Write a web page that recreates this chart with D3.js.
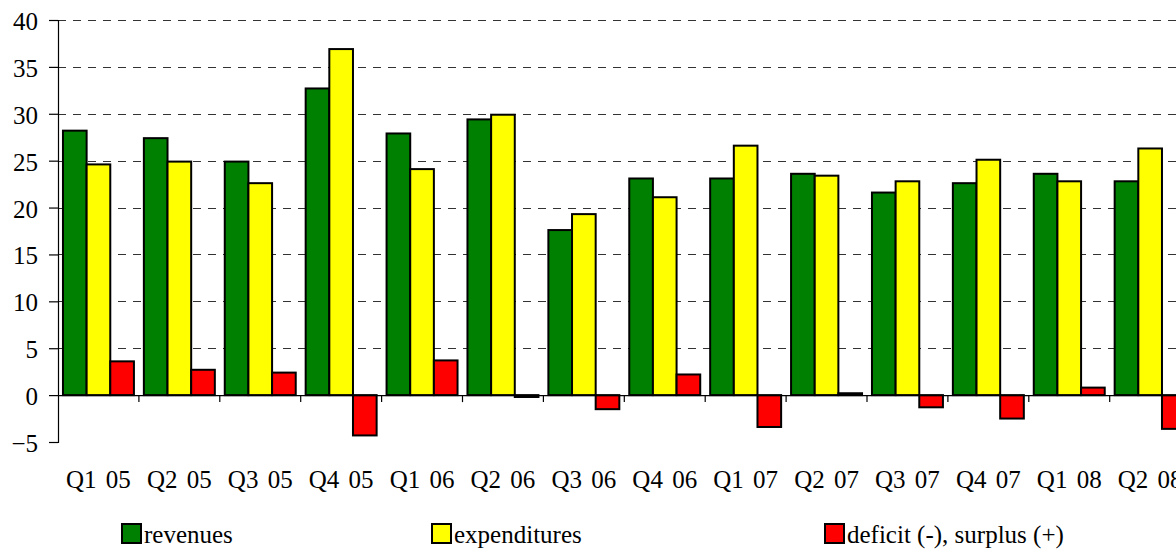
<!DOCTYPE html>
<html><head><meta charset="utf-8"><script src="https://cdn.jsdelivr.net/npm/d3@7"></script></head>
<body style="margin:0;background:#fff">
<svg id="chart" width="1176" height="549" style="display:block"></svg>
<script>
const categories = ["Q1 05","Q2 05","Q3 05","Q4 05","Q1 06","Q2 06","Q3 06","Q4 06","Q1 07","Q2 07","Q3 07","Q4 07","Q1 08","Q2 08"];
const revenues     = [28.2, 27.4, 24.9, 32.7, 27.9, 29.4, 17.6, 23.1, 23.1, 23.6, 21.6, 22.6, 23.6, 22.8];
const expenditures = [24.6, 24.9, 22.6, 36.9, 24.1, 29.9, 19.3, 21.1, 26.6, 23.4, 22.8, 25.1, 22.8, 26.3];
const balance      = [3.6, 2.7, 2.4, -4.3, 3.7, -0.2, -1.5, 2.2, -3.4, 0.2, -1.3, -2.5, 0.8, -3.6];
const seriesNames  = ["revenues", "expenditures", "deficit (-), surplus (+)"];
const seriesColors = ["#008000", "#ffff00", "#ff0000"];
const yTicks       = [-5, 0, 5, 10, 15, 20, 25, 30, 35, 40];

const series = [revenues, expenditures, balance];
const svg = d3.select("#chart");
const FS = 25;

const left = 58, catW = 80.9;
const x = d3.scaleBand().domain(categories).range([left, left + catW * categories.length]).paddingInner(0).paddingOuter(0);
const xs = d3.scaleBand().domain(d3.range(3)).range([0, x.bandwidth()]).paddingInner(0).paddingOuter(0.21);
const y = d3.scaleLinear().domain([-5, 40]).range([442, 20]);

// gridlines
svg.append("g").selectAll("line").data(yTicks.filter(t => t > 0)).join("line")
  .attr("x1", left).attr("x2", 1176)
  .attr("y1", d => Math.round(y(d)) + 0.5).attr("y2", d => Math.round(y(d)) + 0.5)
  .attr("stroke", "#333").attr("stroke-width", 1).attr("stroke-dasharray", "8,7");

// bars
const groups = svg.append("g").selectAll("g").data(categories).join("g")
  .attr("transform", d => `translate(${x(d)},0)`);
groups.selectAll("rect").data((d, i) => series.map((s, k) => ({k, v: s[i]}))).join("rect")
  .attr("x", d => xs(d.k))
  .attr("width", xs.bandwidth())
  .attr("y", d => Math.min(y(d.v), y(0)))
  .attr("height", d => Math.max(Math.abs(y(d.v) - y(0)), 1))
  .attr("fill", d => seriesColors[d.k])
  .attr("stroke", "#000").attr("stroke-width", 2);

// y axis (lines only, labels drawn manually)
const ga = svg.append("g").attr("transform", `translate(${left},0)`)
  .call(d3.axisLeft(y).tickValues(yTicks).tickSize(9).tickFormat(""));
ga.select(".domain").attr("stroke", "#000").attr("stroke-width", 1.2);
ga.selectAll(".tick line").attr("stroke", "#000").attr("stroke-width", 1.2);
svg.append("g").selectAll("text").data(yTicks).join("text")
  .attr("x", left - 20).attr("y", d => y(d) + 10)
  .attr("text-anchor", "end")
  .attr("font-family", "Tinos").attr("font-size", FS).attr("fill", "#000")
  .text(d => d3.format("d")(d));

// x axis at zero
svg.append("path").attr("d", `M${left},${y(0) + 0.5}H1176`).attr("stroke", "#000").attr("stroke-width", 1.2);
svg.append("g").selectAll("line").data(categories.slice(1)).join("line")
  .attr("x1", d => x(d)).attr("x2", d => x(d))
  .attr("y1", y(0)).attr("y2", y(0) + 7)
  .attr("stroke", "#000").attr("stroke-width", 1.2);
svg.append("g").selectAll("text").data(categories).join("text")
  .attr("x", d => x(d) + x.bandwidth() / 2).attr("y", y(0) + 93)
  .attr("text-anchor", "middle")
  .attr("font-family", "Liberation Serif").attr("font-size", FS).attr("fill", "#000").attr("word-spacing", 3)
  .text(d => d);

// legend
const legendX = [122, 432, 825];
const lg = svg.append("g").selectAll("g").data(seriesNames).join("g")
  .attr("transform", (d, i) => `translate(${legendX[i]},524)`);
lg.append("rect").attr("width", 19).attr("height", 19)
  .attr("fill", (d, i) => seriesColors[i]).attr("stroke", "#000").attr("stroke-width", 2);
lg.append("text").attr("x", 22).attr("y", 19).attr("fill", "#000")
  .attr("font-family", "Times New Roman").attr("font-size", FS).text(d => d);
</script>
</body></html>
